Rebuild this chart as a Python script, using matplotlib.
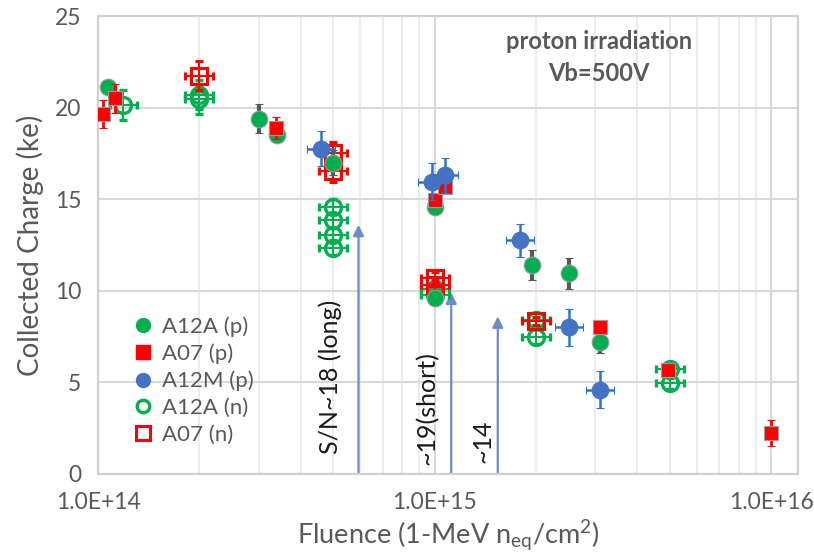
import numpy as np
import matplotlib
matplotlib.use("Agg")
import matplotlib.pyplot as plt
from matplotlib.lines import Line2D
from matplotlib.ticker import LogLocator

plt.rcParams["font.family"] = ["Lato", "DejaVu Sans"]
plt.rcParams["mathtext.fontset"] = "custom"
plt.rcParams["mathtext.rm"] = "Lato"
plt.rcParams["mathtext.it"] = "Lato:italic"

# A12A (p) - green filled
a12a_p_x = [1.07e14, 3.0e14, 3.4e14, 5.0e14, 1.0e15, 1.0e15, 1.95e15, 2.5e15, 3.1e15]
a12a_p_y = [21.1, 19.4, 18.5, 17.0, 14.6, 9.6, 11.4, 10.95, 7.2]
a12a_p_err = [0.3, 0.8, 0.4, 0.7, 0.3, 0.3, 0.8, 0.85, 0.6]

# A07 (p) - red filled
a07_p_x = [1.035e14, 1.12e14, 3.37e14, 1.0e15, 1.07e15, 3.1e15, 4.95e15, 1.0e16]
a07_p_y = [19.65, 20.5, 18.9, 14.95, 15.65, 8.0, 5.7, 2.25]
a07_p_err = [0.75, 0.8, 0.6, 0.3, 0.3, 0.2, 0.2, 0.7]

# A12M (p) - blue filled
a12m_p_x = [4.6e14, 9.8e14, 1.07e15, 1.79e15, 2.5e15, 3.1e15]
a12m_p_y = [17.75, 15.95, 16.3, 12.75, 8.0, 4.6]
a12m_p_err = [0.95, 1.0, 0.95, 0.9, 1.0, 1.0]

# A12A (n) - green open
a12a_n_x = [1.19e14, 2.0e14, 2.0e14, 5.0e14, 5.0e14, 5.0e14, 5.0e14,
            1.0e15, 1.0e15, 2.0e15, 2.0e15, 5.0e15, 5.0e15]
a12a_n_y = [20.15, 20.7, 20.45, 14.6, 13.85, 13.05, 12.35,
            10.1, 9.75, 8.4, 7.5, 5.75, 4.95]
a12a_n_err = [0.8, 0.8, 0.8, 0.4, 0.4, 0.4, 0.4, 0.4, 0.4, 0.4, 0.4, 0.3, 0.3]

# A07 (n) - red open
a07_n_x = [2.0e14, 5.0e14, 5.0e14, 1.0e15, 1.0e15, 2.0e15]
a07_n_y = [21.75, 17.5, 16.55, 10.7, 10.3, 8.35]
a07_n_err = [0.8, 0.6, 0.6, 0.3, 0.3, 0.2]

# arrows and their labels
arrow_x = [5.94e14, 1.12e15, 1.54e15]
arrow_top = [13.6, 9.9, 8.6]
note_x = [4.9e14, 9.5e14, 1.39e15]
note_y = [5.3, 3.6, 1.8]
note_text = ["S/N~18 (long)", "~19(short)", "~14"]

GREEN = "#00B050"
RED = "#FF0000"
BLUE = "#4472C4"
GRAY = "#595959"
XREL = 0.1


def xerr_of(x):
    x = np.array(x)
    return [x - x / (1 + XREL), x * XREL]


fig = plt.figure(figsize=(8.14, 5.56), dpi=100)
ax = fig.add_axes([0.1204, 0.1475, 0.8599, 0.8237])
ax.set_xscale("log")
ax.set_xlim(1e14, 1.2e16)
ax.set_ylim(0, 25)

# grid
ax.xaxis.set_minor_locator(LogLocator(base=10, subs=np.arange(2, 10)))
ax.set_yticks([0, 5, 10, 15, 20, 25])
ax.grid(True, which="major", axis="both", color="#d9d9d9", lw=1.5)
ax.grid(True, which="minor", axis="x", color="#ececec", lw=1.5)
ax.set_axisbelow(True)
for s in ax.spines.values():
    s.set_color("#d0d0d0")
    s.set_linewidth(1.5)
ax.tick_params(which="both", length=0, labelsize=16.5, labelcolor=GRAY)
ax.tick_params(axis="x", pad=13)
ax.tick_params(axis="y", pad=12)
ax.set_xticks([1e14, 1e15, 1e16])
ax.set_xticklabels(["1.0E+14", "1.0E+15", "1.0E+16"])

# series
ax.errorbar(a12a_n_x, a12a_n_y, yerr=a12a_n_err, xerr=xerr_of(a12a_n_x), fmt="o",
            ms=11.5, mfc="none", mec=GREEN, mew=2.4, ecolor=GREEN, elinewidth=1.5,
            capsize=3, capthick=1.5, zorder=3)
ax.errorbar(a07_n_x, a07_n_y, yerr=a07_n_err, xerr=xerr_of(a07_n_x), fmt="s",
            ms=12, mfc="none", mec=RED, mew=2.2, ecolor=RED, elinewidth=1.5,
            capsize=3, capthick=1.5, zorder=4)
ax.errorbar(a12a_p_x, a12a_p_y, yerr=a12a_p_err, fmt="o",
            ms=12, mfc=GREEN, mec="#9a9a9a", mew=0.8, ecolor=GRAY, elinewidth=3,
            capsize=3, capthick=2.5, zorder=5)
ax.errorbar(a07_p_x, a07_p_y, yerr=a07_p_err, fmt="s",
            ms=10, mfc=RED, mec="#9a9a9a", mew=0.8, ecolor=RED, elinewidth=2,
            capsize=3, capthick=2.5, zorder=6)
ax.errorbar(a12m_p_x, a12m_p_y, yerr=a12m_p_err, xerr=xerr_of(a12m_p_x), fmt="o",
            ms=12, mfc=BLUE, mec=BLUE, mew=0.8, ecolor="#2e75c8", elinewidth=1.8,
            capsize=3, capthick=1.8, zorder=7)

# arrows
for xa, yt in zip(arrow_x, arrow_top):
    ax.annotate("", xy=(xa, yt), xytext=(xa, 0),
                arrowprops=dict(arrowstyle="-|>", color="#6b8cc4", lw=1.6,
                                mutation_scale=16, shrinkA=0, shrinkB=0),
                zorder=2)

for xt, yt, t in zip(note_x, note_y, note_text):
    ax.text(xt, yt, t, rotation=90, ha="center", va="center", fontsize=18,
            color="#1a1a1a", zorder=2)

ax.text(0.716, 0.91, "proton irradiation\nVb=500V", transform=ax.transAxes,
        ha="center", va="center", fontsize=17, fontweight="bold", color=GRAY,
        linespacing=1.45)

ax.set_ylabel("Collected Charge (ke)", fontsize=20, color=GRAY, labelpad=8)
ax.set_xlabel("Fluence (1-MeV n$_{\\mathrm{eq}}$/cm$^{2}$)", fontsize=19.5,
              color=GRAY, labelpad=4)

handles = [
    Line2D([], [], ls="none", marker="o", ms=10, mfc=GREEN, mec=GREEN),
    Line2D([], [], ls="none", marker="s", ms=10, mfc=RED, mec=RED),
    Line2D([], [], ls="none", marker="o", ms=10, mfc=BLUE, mec=BLUE),
    Line2D([], [], ls="none", marker="o", ms=9, mfc="none", mec=GREEN, mew=2.4),
    Line2D([], [], ls="none", marker="s", ms=10, mfc="none", mec=RED, mew=2.2),
]
labels = ["A12A (p)", "A07 (p)", "A12M (p)", "A12A (n)", "A07 (n)"]
leg = ax.legend(handles, labels, loc="lower left", bbox_to_anchor=(0.02, 0.03),
                frameon=False, fontsize=16, labelspacing=0.3,
                handletextpad=0.15, handlelength=1.4, labelcolor=GRAY,
                borderpad=0.2)
leg.set_zorder(10)

fig.savefig("out.png", dpi=100)
